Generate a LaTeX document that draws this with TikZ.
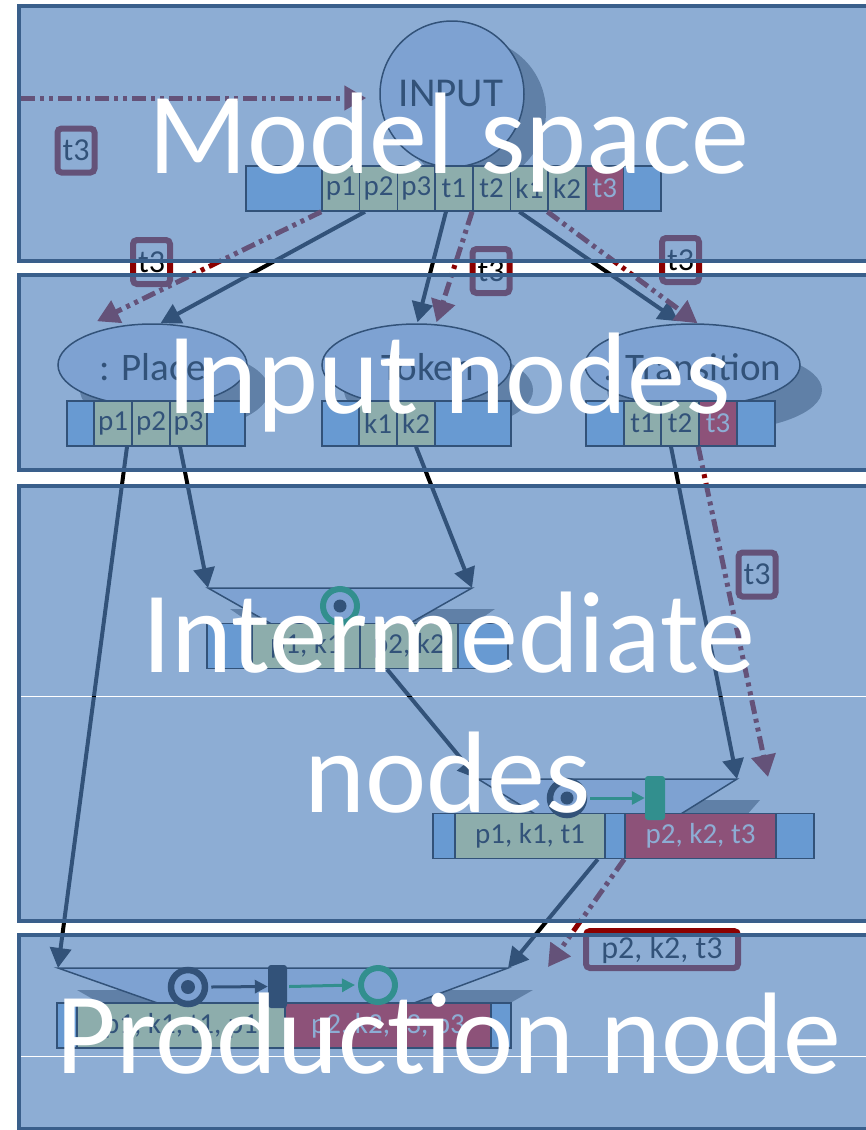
\documentclass[tikz,border=0pt]{standalone}
\usepackage{fontspec}
\setmainfont{Carlito}
\usetikzlibrary{arrows.meta,shapes.geometric,calc}

\definecolor{panelfill}{RGB}{79,129,189}
\definecolor{panelrule}{RGB}{58,95,139}
\definecolor{shapefill}{RGB}{213,223,249}
\definecolor{cellblue}{RGB}{150,200,250}
\definecolor{cellmatch}{RGB}{255,255,144}
\definecolor{cellfail}{RGB}{255,0,0}
\definecolor{tracered}{RGB}{139,0,0}
\definecolor{markgreen}{RGB}{0,170,60}
\definecolor{shadowgray}{RGB}{128,128,128}

\tikzset{
  every node/.style={inner sep=0pt},
  cellbase/.style={draw=black, line width=1.5pt, minimum height=45pt,
    font=\fontsize{29}{29}\selectfont, text=black},
  cellspare/.style={cellbase, fill=cellblue},
  cellhit/.style={cellbase, fill=cellmatch},
  cellmiss/.style={cellbase, fill=cellfail, text=white},
  blob/.style={ellipse, draw=black, line width=1.5pt, fill=shapefill},
  blobtext/.style={font=\fontsize{39}{39}\selectfont, text=black},
  flow/.style={draw=black, line width=4pt, -{Triangle[length=20pt,width=21pt]}},
  trace/.style={draw=tracered, line width=5pt,
    dash pattern=on 14pt off 5pt on 4pt off 5pt on 4pt off 5pt,
    -{Triangle[length=22pt,width=24pt]}},
  tag/.style={draw=tracered, line width=6pt, rounded corners=4pt, fill=white,
    minimum width=37pt, minimum height=44pt, text=black,
    font=\fontsize{32}{32}\selectfont},
  ring/.style={circle, line width=6.5pt, minimum size=34pt},
  dot/.style={circle, fill=black, minimum size=13pt},
  bar/.style={rounded corners=3pt, minimum width=20pt, minimum height=44pt},
  step arrow/.style={line width=3pt, -{Triangle[length=13pt,width=13pt]}},
  caption/.style={text=white, font=\fontsize{116}{116}\selectfont, anchor=base},
  trapez/.style={fill=shapefill, draw=black, line width=1.5pt},
}

\begin{document}
\begin{tikzpicture}[x=1pt, y=-1pt]
\clip (0,0) rectangle (866,1130);
\fill[white] (0,0) rectangle (866,1130);

% ---------- shadows ----------
\fill[shadowgray] (474,112) ellipse [x radius=72pt, y radius=73pt];
\fill[shadowgray] (174.5,390) ellipse [x radius=94.5pt, y radius=41pt];
\fill[shadowgray] (438.5,390) ellipse [x radius=94.5pt, y radius=41pt];
\fill[shadowgray] (714.5,390) ellipse [x radius=107.5pt, y radius=41pt];
\fill[shadowgray] (230,609) -- (495,609) -- (470,626) -- (255,626) -- cycle;
\fill[shadowgray] (500,800) -- (760,800) -- (745,817) -- (515,817) -- cycle;
\fill[shadowgray] (77,990) -- (533,990) -- (505,1006) -- (105,1006) -- cycle;

% ---------- model space ----------
\node[blob, minimum width=144pt, minimum height=146pt] (input) at (452,94) {};
\node[blobtext, font=\fontsize{41}{41}\selectfont] (input-t) at (451,93) {INPUT};

\node[cellspare, minimum width=76pt] (tb-l) at (284,188.5) {};
\foreach \lab [count=\i] in {p1,p2,p3,t1,t2,k1,k2}
  \node[cellhit, minimum width=37.7pt] (c-\lab) at ({322+37.7*(\i-0.5)},188.5) {\lab};
\node[cellmiss, minimum width=37.7pt] (c-t3) at (604.75,188.5) {t3};
\node[cellspare, minimum width=37.4pt] (tb-r) at (642.3,188.5) {};

\node[tag] (tag-in) at (76,150.5) {t3};

% ---------- input nodes ----------
\node[blob, minimum width=189pt, minimum height=82pt] (place) at (152.5,365) {};
\node[blobtext] (place-t) at (152.5,367) {: Place};
\node[blob, minimum width=189pt, minimum height=82pt] (token) at (416.5,365) {};
\node[blobtext] (token-t) at (416.5,367) {: Token};
\node[blob, minimum width=215pt, minimum height=82pt] (transition) at (692.5,365) {};
\node[blobtext] (transition-t) at (692.5,367) {: Transition};

\node[cellspare, minimum width=27pt] (pl-l) at (80.5,423.5) {};
\node[cellhit, minimum width=38pt] (pl-p1) at (113,423.5) {p1};
\node[cellhit, minimum width=38pt] (pl-p2) at (151,423.5) {p2};
\node[cellhit, minimum width=37pt] (pl-p3) at (188.5,423.5) {p3};
\node[cellspare, minimum width=38pt] (pl-r) at (226,423.5) {};

\node[cellspare, minimum width=37pt] (tk-l) at (340.5,423.5) {};
\node[cellhit, minimum width=38pt] (tk-k1) at (378,423.5) {k1};
\node[cellhit, minimum width=38pt] (tk-k2) at (416,423.5) {k2};
\node[cellspare, minimum width=76pt] (tk-r) at (473,423.5) {};

\node[cellspare, minimum width=38pt] (tr-l) at (605,423.5) {};
\node[cellhit, minimum width=37pt] (tr-t1) at (642.5,423.5) {t1};
\node[cellhit, minimum width=38pt] (tr-t2) at (680,423.5) {t2};
\node[cellmiss, minimum width=38pt] (tr-t3) at (718,423.5) {t3};
\node[cellspare, minimum width=38pt] (tr-r) at (756,423.5) {};

% ---------- intermediate node 1 ----------
\coordinate (i1-tl) at (208,588);
\coordinate (i1-tr) at (472,588);
\coordinate (i1-br) at (405,626);
\coordinate (i1-bl) at (275,626);
\draw[trapez] (i1-tl) -- (i1-tr) -- (i1-br) -- (i1-bl) -- cycle;
\begin{scope}[every node/.append style={minimum height=40pt, font=\fontsize{27}{27}\selectfont}]
\node[cellspare, minimum width=45pt] (i1-l) at (229.5,646) {};
\node[cellhit, minimum width=108pt] (i1-a) at (306,646) {p1, k1};
\node[cellhit, minimum width=98pt] (i1-b) at (409,646) {p2, k2};
\node[cellspare, minimum width=50pt] (i1-r) at (483,646) {};
\end{scope}
\node[ring, draw=markgreen, line width=6pt] (i1-ring) at (340,606) {};
\node[dot] (i1-dot) at (i1-ring.center) {};

% ---------- intermediate node 2 ----------
\coordinate (i2-tl) at (478,779);
\coordinate (i2-tr) at (737,779);
\coordinate (i2-br) at (676,817);
\coordinate (i2-bl) at (540,817);
\coordinate (i2-trace) at (768,777);
\draw[trapez] (i2-tl) -- (i2-tr) -- (i2-br) -- (i2-bl) -- cycle;
\begin{scope}[every node/.append style={minimum height=38pt, font=\fontsize{32}{32}\selectfont}]
\node[cellspare, minimum width=22pt] (i2-l) at (444,836) {};
\node[cellhit, minimum width=150pt] (i2-a) at (530,836) {p1, k1, t1};
\node[cellspare, minimum width=20pt] (i2-m) at (615,836) {};
\node[cellmiss, minimum width=151pt] (i2-b) at (700.5,836) {p2, k2, t3};
\node[cellspare, minimum width=38pt] (i2-r) at (795,836) {};
\end{scope}
\node[ring, draw=black] (i2-ring) at (567,798) {};
\node[dot] (i2-dot) at (i2-ring.center) {};
\node[bar, fill=markgreen] (i2-bar) at (655,798) {};
\draw[step arrow, markgreen] ([xshift=3pt]i2-ring.east) -- (i2-bar.west);

% ---------- production node ----------
\coordinate (pr-tl) at (58,968);
\coordinate (pr-tr) at (508,968);
\coordinate (pr-br) at (406,1006);
\coordinate (pr-bl) at (166,1006);
\coordinate (pr-trace) at (548,967);
\draw[trapez] (pr-tl) -- (pr-tr) -- (pr-br) -- (pr-bl) -- cycle;
\begin{scope}[every node/.append style={minimum height=39pt, font=\fontsize{32}{32}\selectfont}]
\node[cellspare, minimum width=20pt] (pr-l) at (67,1025.5) {};
\node[cellhit, minimum width=208pt] (pr-a) at (181,1025.5) {p1, k1, t1, p1};
\node[cellmiss, minimum width=206pt] (pr-b) at (388,1025.5) {p2, k2, t3, p3};
\node[cellspare, minimum width=20pt] (pr-r) at (501,1025.5) {};
\end{scope}
\node[ring, draw=black] (pr-ring) at (188,987) {};
\node[dot, minimum size=14pt] (pr-dot) at (pr-ring.center) {};
\node[bar, fill=black, minimum width=19pt, minimum height=43pt] (pr-bar) at (277.5,986.5) {};
\node[ring, draw=markgreen, line width=6pt] (pr-gring) at (378,985) {};
\draw[step arrow, black] ([xshift=3pt]pr-ring.east) -- (pr-bar.west);
\draw[step arrow, markgreen] ([xshift=2pt]pr-bar.east) -- ([xshift=-3pt]pr-gring.west);

% ---------- traced labels ----------
\node[tag] (tag-place) at (151.5,262) {t3};
\node[tag] (tag-token) at (491,271) {t3};
\node[tag] (tag-trans) at (680.5,260) {t3};
\node[tag] (tag-int) at (757,574.5) {t3};
\node[tag, minimum width=152pt, minimum height=37pt] (tag-prod) at (662,949.5) {p2, k2, t3};

% ---------- connectors ----------
\coordinate (feed) at (21,98);
\draw[trace] (feed) -- ([xshift=-13pt, yshift=-4pt]input.west);

\draw[trace] (c-p1.south west) -- ([xshift=-55.5pt, yshift=2pt]place.north);
\draw[flow] ([xshift=-13.6pt]c-p2.south) -- ([xshift=8pt]place.north);
\draw[flow] ([xshift=-8pt]c-t1.south) -- ([xshift=1pt, yshift=1pt]token.north);
\draw[trace] (c-t2.south west) -- ([xshift=20pt, yshift=1pt]token.north);
\draw[flow] ([xshift=-10pt]c-k1.south) -- ([xshift=-14pt, yshift=2pt]transition.north);
\draw[trace] (c-k2.south west) -- ([xshift=5pt]transition.north);

\draw[flow] ([xshift=14pt]pl-p1.south) -- (pr-tl);
\draw[flow] ([xshift=-8.5pt]pl-p3.south) -- (i1-tl);
\draw[flow] (tk-k2.south) -- (i1-tr);
\draw[flow] ([xshift=-9pt]tr-t2.south) -- (i2-tr);
\draw[trace] (tr-t3.south west) -- (i2-trace);

\draw[flow] ([xshift=-22pt]i1-b.south) -- (i2-tl);
\draw[flow] ([xshift=-8pt]i2-a.south east) -- (pr-tr);
\draw[trace] (i2-b.south west) -- (pr-trace);

% ---------- layer panels ----------
\begin{scope}[fill opacity=0.643]
\fill[panelfill] (19,6) rectangle (880,261);
\fill[panelfill] (19,275) rectangle (880,470);
\fill[panelfill] (19,486) rectangle (880,695.6);
\fill[panelfill] (19,696.6) rectangle (880,921);
\fill[panelfill] (19,935) rectangle (880,1055.5);
\fill[panelfill] (19,1056.5) rectangle (880,1129);
\end{scope}
\begin{scope}[draw=panelrule, line width=4.5pt]
\draw (19,6) rectangle (880,261);
\draw (19,275) rectangle (880,470);
\draw (19,486) rectangle (880,921);
\draw (19,935) rectangle (880,1129);
\end{scope}

% ---------- layer captions ----------
\node[caption] (cap-model) at (449,173) {Model space};
\node[caption] (cap-input) at (449,413) {Input nodes};
\node[caption] (cap-inter) at (449,672) {Intermediate};
\node[caption] (cap-inter2) at (448,812) {nodes};
\node[caption] (cap-prod) at (449,1073) {Production node};
\end{tikzpicture}
\end{document}
